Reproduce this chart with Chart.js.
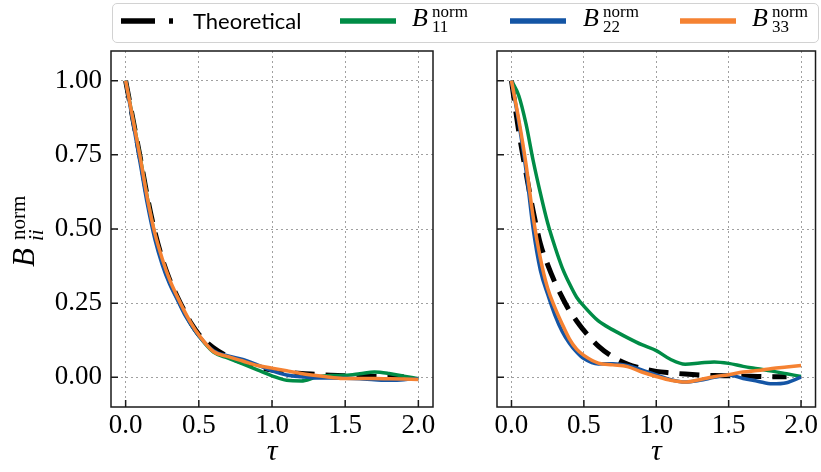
<!DOCTYPE html>
<html>
<head>
<meta charset="utf-8">
<script src="https://cdn.jsdelivr.net/npm/chart.js@4.4.1/dist/chart.umd.min.js"></script>
<style>
  html, body { margin: 0; padding: 0; background: #fff; }
  #wrap { position: relative; width: 821px; height: 472px; overflow: hidden; font-family: "Liberation Serif", serif; }
  canvas { position: absolute; top: 0; }
  #legendBox { position: absolute; left: 112px; top: 3px; width: 707px; height: 40px; box-sizing: border-box;
               border: 1.5px solid #d2d2d2; border-radius: 5px; }
  .handle { position: absolute; top: 16px; }
  .txt { position: absolute; line-height: 1; white-space: nowrap; }
  .sans { font-family: "Lato", "Liberation Sans", sans-serif; font-size: 22px; }
  .math { position: absolute; white-space: nowrap; line-height: 1; }
  .math .b { position: absolute; left: 0; font-style: italic; }
  .math .sup, .math .sub { position: absolute; }
</style>
</head>
<body>
<div id="wrap">
  <canvas id="left" width="440" height="472" style="left:0"></canvas>
  <canvas id="right" width="381" height="472" style="left:440px"></canvas>

  <div id="legendBox"></div>
  <svg class="handle" style="left:121px" width="56" height="10"><line x1="0" y1="5" x2="52" y2="5" stroke="#000" stroke-width="5.5" stroke-dasharray="34 14"/></svg>
  <div class="txt sans" style="left:193px;top:10px">Theoretical</div>

  <svg class="handle" style="left:340px" width="56" height="10"><line x1="0" y1="5" x2="56" y2="5" stroke="#008c46" stroke-width="5.5"/></svg>
  <div class="math" style="left:412px;top:0">
    <span class="b" style="top:5px;font-size:26px">B</span>
    <span class="sup" style="left:20px;top:3px;font-size:17px">norm</span>
    <span class="sub" style="left:20px;top:18px;font-size:17px">11</span>
  </div>

  <svg class="handle" style="left:510px" width="56" height="10"><line x1="0" y1="5" x2="56" y2="5" stroke="#1455a5" stroke-width="5.5"/></svg>
  <div class="math" style="left:583px;top:0">
    <span class="b" style="top:5px;font-size:26px">B</span>
    <span class="sup" style="left:20px;top:3px;font-size:17px">norm</span>
    <span class="sub" style="left:20px;top:18px;font-size:17px">22</span>
  </div>

  <svg class="handle" style="left:680px" width="56" height="10"><line x1="0" y1="5" x2="56" y2="5" stroke="#f58232" stroke-width="5.5"/></svg>
  <div class="math" style="left:752px;top:0">
    <span class="b" style="top:5px;font-size:26px">B</span>
    <span class="sup" style="left:20px;top:3px;font-size:17px">norm</span>
    <span class="sub" style="left:20px;top:18px;font-size:17px">33</span>
  </div>

  <!-- y axis title, rotated -->
  <div class="math" style="left:-10px;top:208px;width:76px;height:44px;transform:rotate(-90deg)">
    <span class="b" style="left:1px;top:2px;font-size:31px">B</span>
    <span class="sup" style="left:28px;top:2px;font-size:21px">norm</span>
    <span class="sub" style="left:27px;top:20px;font-size:21px;font-style:italic">ii</span>
  </div>
</div>

<script>
// time lag (shared by all curves)
const tau = [0, 0.05, 0.1, 0.15, 0.2, 0.25, 0.3, 0.35, 0.4, 0.45, 0.5, 0.6, 0.7, 0.8, 0.9,
             1.0, 1.1, 1.2, 1.3, 1.4, 1.5, 1.6, 1.7, 1.8, 1.9, 2.0];

// left panel
const theoLeft = [1, .87, .74, .605, .49, .4, .33, .275, .225, .18, .145, .1, .07, .05, .035,
                  .025, .018, .013, .01, .007, .005, .004, .003, .002, .002, null];
const b11Left  = [1, .87, .74, .6, .48, .39, .32, .27, .22, .175, .14, .085, .065, .045, .025,
                  .005, -.01, -.012, 0, .006, .007, .012, .018, .013, .004, -.005];
const b22Left  = [1, .86, .72, .58, .465, .38, .315, .265, .215, .175, .14, .09, .072, .06, .042,
                  .022, .008, .002, -.002, -.002, -.003, -.005, -.008, -.01, -.008, -.005];
const b33Left  = [1, .87, .74, .6, .485, .4, .33, .275, .225, .18, .143, .087, .07, .055, .04,
                  .031, .022, .013, .006, 0, -.004, -.004, -.004, -.005, -.006, -.007];

// right panel
const theoRight = [1, .83, .69, .56, .45, .38, .32, .27, .225, .19, .158, .105, .069, .045, .03,
                   .02, .015, .011, .008, .006, .005, .004, .003, .002, .002, null];
const b11Right  = [1, .95, .855, .73, .62, .52, .44, .37, .316, .27, .24, .19, .16, .134, .11,
                   .09, .06, .044, .048, .052, .047, .037, .029, .021, .012, .003];
const b22Right  = [1, .86, .7, .5, .36, .28, .21, .155, .115, .085, .063, .045, .046, .04, .025,
                   .008, -.008, -.016, -.01, 0, .008, -.004, -.013, -.022, -.018, .001];
const b33Right  = [1, .87, .72, .54, .40, .30, .235, .18, .13, .095, .074, .048, .042, .036, .018,
                   .003, -.01, -.016, -.008, .002, .009, .018, .023, .03, .035, .04];

const xTicks = [0, 0.5, 1.0, 1.5, 2.0];
const yTicks = [0, 0.25, 0.5, 0.75, 1.0];

Chart.defaults.font.family = '"Liberation Serif", serif';
Chart.defaults.color = '#000';

const toPts = vals => tau.map((t, i) => ({ x: t, y: vals[i] }));

// matplotlib-like box with inward ticks
const frame = {
  id: 'frame',
  afterDatasetsDraw(chart) {
    const { ctx, chartArea: a, scales } = chart;
    ctx.save();
    ctx.strokeStyle = '#1a1a1a';
    ctx.lineWidth = 1.5;
    ctx.beginPath();
    scales.x.ticks.forEach(t => {
      const px = scales.x.getPixelForValue(t.value);
      ctx.moveTo(px, a.bottom); ctx.lineTo(px, a.bottom - 7);
    });
    scales.y.ticks.forEach(t => {
      const py = scales.y.getPixelForValue(t.value);
      ctx.moveTo(a.left, py); ctx.lineTo(a.left + 7, py);
    });
    ctx.stroke();
    ctx.strokeRect(a.left, a.top, a.right - a.left, a.bottom - a.top);
    ctx.restore();
  }
};

function makePanel(id, series, showY, yWidth, padRight) {
  const [theo, b11, b22, b33] = series;
  const line = (data, color, width, order, dash) => ({
    data: toPts(data), borderColor: color, borderWidth: width, borderDash: dash || [],
    pointRadius: 0, fill: false, cubicInterpolationMode: 'monotone', order: order, spanGaps: false
  });
  new Chart(document.getElementById(id), {
    type: 'line',
    data: {
      datasets: [
        line(theo, '#000000', 5, 3, [20, 11]),
        line(b11, '#008c46', 3.5, 2),
        line(b22, '#1455a5', 3.5, 1),
        line(b33, '#f58232', 3.5, 0)
      ]
    },
    options: {
      responsive: false,
      devicePixelRatio: 1,
      animation: false,
      layout: { padding: { top: 51, right: padRight, left: 0, bottom: 0 } },
      plugins: { legend: { display: false }, tooltip: { enabled: false } },
      scales: {
        x: {
          type: 'linear', min: -0.1, max: 2.1,
          afterBuildTicks: s => { s.ticks = xTicks.map(v => ({ value: v })); },
          afterFit: s => { s.height = 65; },
          grid: { color: '#a0a0a0', lineWidth: 1, drawTicks: false },
          border: { display: false, dash: [2, 3] },
          ticks: { padding: 3, font: { size: 27 }, callback: v => v.toFixed(1) },
          title: { display: true, text: 'τ', font: { size: 30, style: 'italic' }, padding: { top: 4, bottom: 2 } }
        },
        y: {
          type: 'linear', min: -0.1, max: 1.1,
          afterBuildTicks: s => { s.ticks = yTicks.map(v => ({ value: v })); },
          afterFit: s => { s.width = yWidth; },
          grid: { color: '#a0a0a0', lineWidth: 1, drawTicks: false },
          border: { display: false, dash: [2, 3] },
          ticks: { display: showY, padding: 9, font: { size: 27 }, callback: v => v.toFixed(2) }
        }
      }
    },
    plugins: [frame]
  });
}

makePanel('left', [theoLeft, b11Left, b22Left, b33Left], true, 111, 7);
makePanel('right', [theoRight, b11Right, b22Right, b33Right], false, 57, 2);
</script>
</body>
</html>
